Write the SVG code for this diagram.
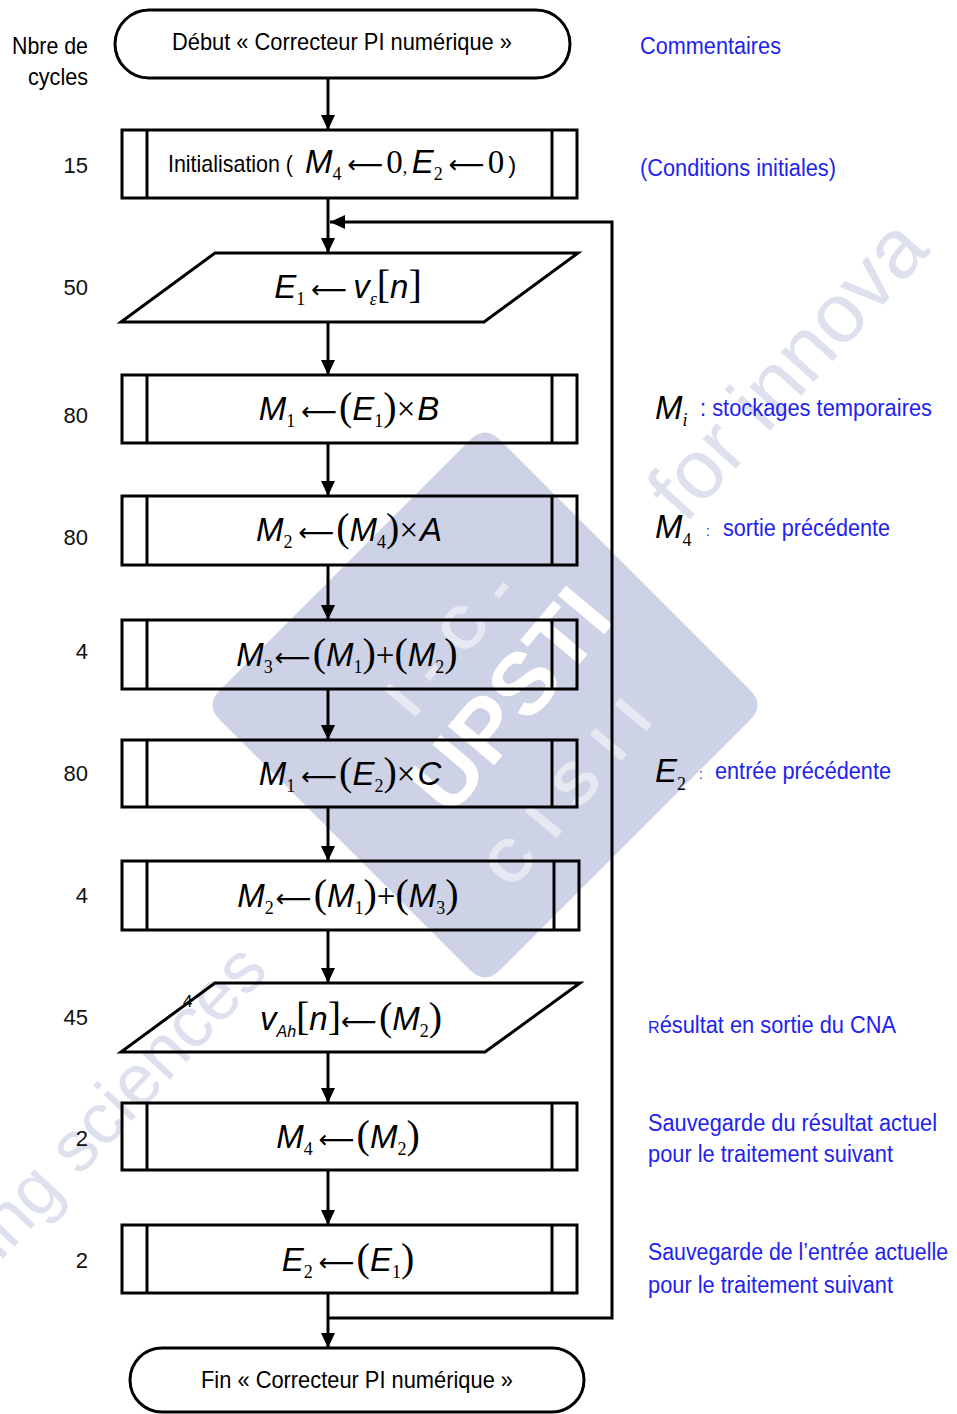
<svg xmlns="http://www.w3.org/2000/svg" width="957" height="1414" viewBox="0 0 957 1414">
<style>
.bg{fill:#fff}
.shape{fill:none;stroke:#000;stroke-width:3}
.edge{fill:none;stroke:#000;stroke-width:3}
.t{font-family:"Liberation Sans",Arial,sans-serif;font-size:24px;fill:#000}
.num{font-family:"Liberation Sans",Arial,sans-serif;font-size:22px;fill:#111}
.cm{font-family:"Liberation Sans",Arial,sans-serif;font-size:23px;fill:#2222ee}
.mi{font-family:"Liberation Sans",Arial,sans-serif;font-style:italic;font-size:33px;fill:#000}
.mo{font-family:"Liberation Serif","Times New Roman",serif;font-size:33px;fill:#000}
.pa{font-family:"Liberation Serif","Times New Roman",serif;font-size:40px;fill:#000}
.ar{font-family:"DejaVu Sans",sans-serif;font-size:25px;fill:#000}
.sb{font-family:"Liberation Serif","Times New Roman",serif;font-size:18px;fill:#000}
.wm{fill:#cdd2e6}
.wt{font-family:"Liberation Sans",Arial,sans-serif;font-weight:bold;fill:#fff}
.wf{font-family:"Liberation Sans",Arial,sans-serif;fill:#dde1ee}
</style>
<defs>
<marker id="arr" markerUnits="userSpaceOnUse" markerWidth="16" markerHeight="16" viewBox="0 0 16 16" refX="15" refY="8" orient="auto">
<path d="M0,1 L15,8 L0,15 Z" fill="#000"/>
</marker>
</defs>
<rect class="bg" x="0" y="0" width="957" height="1414"/>
<g id="watermark">
<path class="wm" d="M470,440 Q485,425 500,440 L750,690 Q765,705 750,720 L500,970 Q485,985 470,970 L220,720 Q205,705 220,690 Z"/>
<text class="wt" x="510" y="730" font-size="88" text-anchor="middle" transform="rotate(-50 510 700)">UPSTI</text>
<text class="wt" x="458" y="655" font-size="60" text-anchor="middle" opacity="0.5" letter-spacing="22" transform="rotate(-50 458 635)">I-C-</text>
<text class="wt" x="575" y="805" font-size="60" text-anchor="middle" opacity="0.5" letter-spacing="22" transform="rotate(-50 575 785)">CISII</text>
<text class="wf" x="685" y="525" font-size="84" transform="rotate(-48 685 525)">for innova</text>
<text class="wf" x="0" y="1262" font-size="72" transform="rotate(-47 0 1262)">ing sciences</text>
</g>
<g id="cycles">
<text class="t" x="88" y="54" text-anchor="end" textLength="76" lengthAdjust="spacingAndGlyphs">Nbre de</text>
<text class="t" x="88" y="85" text-anchor="end" textLength="60" lengthAdjust="spacingAndGlyphs">cycles</text>
<text class="num" x="88" y="173" text-anchor="end">15</text>
<text class="num" x="88" y="295" text-anchor="end">50</text>
<text class="num" x="88" y="423" text-anchor="end">80</text>
<text class="num" x="88" y="545" text-anchor="end">80</text>
<text class="num" x="88" y="659" text-anchor="end">4</text>
<text class="num" x="88" y="781" text-anchor="end">80</text>
<text class="num" x="88" y="903" text-anchor="end">4</text>
<text class="num" x="88" y="1025" text-anchor="end">45</text>
<text class="num" x="88" y="1146" text-anchor="end">2</text>
<text class="num" x="88" y="1268" text-anchor="end">2</text>
</g>
<g id="connectors">
<line class="edge" x1="328" y1="78" x2="328" y2="130" marker-end="url(#arr)"/>
<line class="edge" x1="328" y1="198" x2="328" y2="253" marker-end="url(#arr)"/>
<path class="edge" d="M328,1318 H612 V222 H330" marker-end="url(#arr)"/>
<line class="edge" x1="328" y1="322" x2="328" y2="375" marker-end="url(#arr)"/>
<line class="edge" x1="328" y1="443" x2="328" y2="496" marker-end="url(#arr)"/>
<line class="edge" x1="328" y1="565" x2="328" y2="620" marker-end="url(#arr)"/>
<line class="edge" x1="328" y1="689" x2="328" y2="740" marker-end="url(#arr)"/>
<line class="edge" x1="328" y1="807" x2="328" y2="861" marker-end="url(#arr)"/>
<line class="edge" x1="328" y1="930" x2="328" y2="983" marker-end="url(#arr)"/>
<line class="edge" x1="328" y1="1052" x2="328" y2="1103" marker-end="url(#arr)"/>
<line class="edge" x1="328" y1="1170" x2="328" y2="1225" marker-end="url(#arr)"/>
<line class="edge" x1="328" y1="1293" x2="328" y2="1348" marker-end="url(#arr)"/>
</g>
<g id="start">
<rect class="shape" x="115" y="10" width="455" height="68" rx="34"/>
<text class="t" x="342" y="50" text-anchor="middle" textLength="340" lengthAdjust="spacingAndGlyphs">Début « Correcteur PI numérique »</text>
</g>
<g id="init">
<rect class="shape" x="122" y="130" width="455" height="68"/>
<line class="shape" x1="147" y1="130" x2="147" y2="198"/><line class="shape" x1="552" y1="130" x2="552" y2="198"/>
<text class="t" x="168" y="172" textLength="125" lengthAdjust="spacingAndGlyphs">Initialisation (</text>
<text x="305" y="173"><tspan class="mi">M</tspan><tspan class="sb" dy="7">4</tspan><tspan class="ar" dy="-7" dx="6">⟵</tspan><tspan class="mo" dx="3">0</tspan><tspan class="mo" style="font-size:18px">, </tspan><tspan class="mi">E</tspan><tspan class="sb" dy="7">2</tspan><tspan class="ar" dy="-7" dx="6">⟵</tspan><tspan class="mo" dx="3">0</tspan><tspan class="t" dx="4">)</tspan></text>
</g>
<g id="input1">
<polygon class="shape" points="215,253 578,253 484,322 121,322"/>
<text x="348" y="298" text-anchor="middle"><tspan class="mi">E</tspan><tspan class="sb" dy="7">1</tspan><tspan class="ar" dy="-7" dx="6">⟵</tspan><tspan class="mi" dx="6">v</tspan><tspan class="sb" font-style="italic" dy="7">ε</tspan><tspan class="pa" dy="-7">[</tspan><tspan class="mi">n</tspan><tspan class="pa">]</tspan></text>
</g>
<g id="p1">
<rect class="shape" x="122" y="375" width="455" height="68"/>
<line class="shape" x1="147" y1="375" x2="147" y2="443"/><line class="shape" x1="552" y1="375" x2="552" y2="443"/>
<text x="349" y="420" text-anchor="middle"><tspan class="mi">M</tspan><tspan class="sb" dy="7">1</tspan><tspan class="ar" dy="-7" dx="6">⟵</tspan><tspan class="pa" dx="2">(</tspan><tspan class="mi">E</tspan><tspan class="sb" dy="7">1</tspan><tspan class="pa" dy="-7">)</tspan><tspan class="mo">×</tspan><tspan class="mi" dx="2">B</tspan></text>
</g>
<g id="p2">
<rect class="shape" x="122" y="496" width="455" height="69"/>
<line class="shape" x1="147" y1="496" x2="147" y2="565"/><line class="shape" x1="552" y1="496" x2="552" y2="565"/>
<text x="349" y="541" text-anchor="middle"><tspan class="mi">M</tspan><tspan class="sb" dy="7">2</tspan><tspan class="ar" dy="-7" dx="6">⟵</tspan><tspan class="pa" dx="2">(</tspan><tspan class="mi">M</tspan><tspan class="sb" dy="7">4</tspan><tspan class="pa" dy="-7">)</tspan><tspan class="mo">×</tspan><tspan class="mi" dx="2">A</tspan></text>
</g>
<g id="p3">
<rect class="shape" x="122" y="620" width="455" height="69"/>
<line class="shape" x1="147" y1="620" x2="147" y2="689"/><line class="shape" x1="552" y1="620" x2="552" y2="689"/>
<text x="347" y="666" text-anchor="middle"><tspan class="mi">M</tspan><tspan class="sb" dy="7">3</tspan><tspan class="ar" dy="-7" dx="2">⟵</tspan><tspan class="pa" dx="2">(</tspan><tspan class="mi">M</tspan><tspan class="sb" dy="7">1</tspan><tspan class="pa" dy="-7">)</tspan><tspan class="mo">+</tspan><tspan class="pa">(</tspan><tspan class="mi">M</tspan><tspan class="sb" dy="7">2</tspan><tspan class="pa" dy="-7">)</tspan></text>
</g>
<g id="p4">
<rect class="shape" x="122" y="740" width="455" height="67"/>
<line class="shape" x1="147" y1="740" x2="147" y2="807"/><line class="shape" x1="552" y1="740" x2="552" y2="807"/>
<text x="350" y="785" text-anchor="middle"><tspan class="mi">M</tspan><tspan class="sb" dy="7">1</tspan><tspan class="ar" dy="-7" dx="6">⟵</tspan><tspan class="pa" dx="2">(</tspan><tspan class="mi">E</tspan><tspan class="sb" dy="7">2</tspan><tspan class="pa" dy="-7">)</tspan><tspan class="mo">×</tspan><tspan class="mi" dx="2">C</tspan></text>
</g>
<g id="p5">
<rect class="shape" x="122" y="861" width="457" height="69"/>
<line class="shape" x1="147" y1="861" x2="147" y2="930"/><line class="shape" x1="554" y1="861" x2="554" y2="930"/>
<text x="348" y="907" text-anchor="middle"><tspan class="mi">M</tspan><tspan class="sb" dy="7">2</tspan><tspan class="ar" dy="-7" dx="2">⟵</tspan><tspan class="pa" dx="2">(</tspan><tspan class="mi">M</tspan><tspan class="sb" dy="7">1</tspan><tspan class="pa" dy="-7">)</tspan><tspan class="mo">+</tspan><tspan class="pa">(</tspan><tspan class="mi">M</tspan><tspan class="sb" dy="7">3</tspan><tspan class="pa" dy="-7">)</tspan></text>
</g>
<g id="output1">
<polygon class="shape" points="215,983 580,983 485,1052 121,1052"/>
<text class="t" x="183" y="1007" style="font-size:17px">4</text>
<text x="351" y="1030" text-anchor="middle"><tspan class="mi">v</tspan><tspan class="mi" style="font-size:16px" dy="7">Ah</tspan><tspan class="pa" dy="-7">[</tspan><tspan class="mi">n</tspan><tspan class="pa">]</tspan><tspan class="ar">⟵</tspan><tspan class="pa" dx="2">(</tspan><tspan class="mi">M</tspan><tspan class="sb" dy="7">2</tspan><tspan class="pa" dy="-7">)</tspan></text>
</g>
<g id="p6">
<rect class="shape" x="122" y="1103" width="455" height="67"/>
<line class="shape" x1="147" y1="1103" x2="147" y2="1170"/><line class="shape" x1="552" y1="1103" x2="552" y2="1170"/>
<text x="348" y="1148" text-anchor="middle"><tspan class="mi">M</tspan><tspan class="sb" dy="7">4</tspan><tspan class="ar" dy="-7" dx="6">⟵</tspan><tspan class="pa" dx="2">(</tspan><tspan class="mi">M</tspan><tspan class="sb" dy="7">2</tspan><tspan class="pa" dy="-7">)</tspan></text>
</g>
<g id="p7">
<rect class="shape" x="122" y="1225" width="455" height="68"/>
<line class="shape" x1="147" y1="1225" x2="147" y2="1293"/><line class="shape" x1="552" y1="1225" x2="552" y2="1293"/>
<text x="348" y="1271" text-anchor="middle"><tspan class="mi">E</tspan><tspan class="sb" dy="7">2</tspan><tspan class="ar" dy="-7" dx="6">⟵</tspan><tspan class="pa" dx="2">(</tspan><tspan class="mi">E</tspan><tspan class="sb" dy="7">1</tspan><tspan class="pa" dy="-7">)</tspan></text>
</g>
<g id="end">
<rect class="shape" x="130" y="1348" width="454" height="64" rx="32"/>
<text class="t" x="357" y="1388" text-anchor="middle" textLength="312" lengthAdjust="spacingAndGlyphs">Fin « Correcteur PI numérique »</text>
</g>
<g id="comments">
<text class="cm" x="640" y="54" textLength="141" lengthAdjust="spacingAndGlyphs">Commentaires</text>
<text class="cm" x="640" y="176" textLength="196" lengthAdjust="spacingAndGlyphs">(Conditions initiales)</text>
<text x="655" y="419"><tspan class="mi">M</tspan><tspan class="sb" font-style="italic" dy="7">i</tspan></text>
<text class="cm" x="700" y="416" textLength="232" lengthAdjust="spacingAndGlyphs">: stockages temporaires</text>
<text x="655" y="538"><tspan class="mi">M</tspan><tspan class="sb" dy="8">4</tspan></text>
<text class="cm" x="706" y="536" style="font-size:14px">:</text>
<text class="cm" x="723" y="536" textLength="167" lengthAdjust="spacingAndGlyphs">sortie précédente</text>
<text x="655" y="782"><tspan class="mi">E</tspan><tspan class="sb" dy="8">2</tspan></text>
<text class="cm" x="699" y="779" style="font-size:14px">:</text>
<text class="cm" x="715" y="779" textLength="176" lengthAdjust="spacingAndGlyphs">entrée précédente</text>
<text class="cm" x="648" y="1033" textLength="248" lengthAdjust="spacingAndGlyphs"><tspan style="font-size:17px">R</tspan>ésultat en sortie du CNA</text>
<text class="cm" x="648" y="1131" textLength="289" lengthAdjust="spacingAndGlyphs">Sauvegarde du résultat actuel</text>
<text class="cm" x="648" y="1162" textLength="245" lengthAdjust="spacingAndGlyphs">pour le traitement suivant</text>
<text class="cm" x="648" y="1260" textLength="300" lengthAdjust="spacingAndGlyphs">Sauvegarde de l’entrée actuelle</text>
<text class="cm" x="648" y="1293" textLength="245" lengthAdjust="spacingAndGlyphs">pour le traitement suivant</text>
</g>
</svg>
